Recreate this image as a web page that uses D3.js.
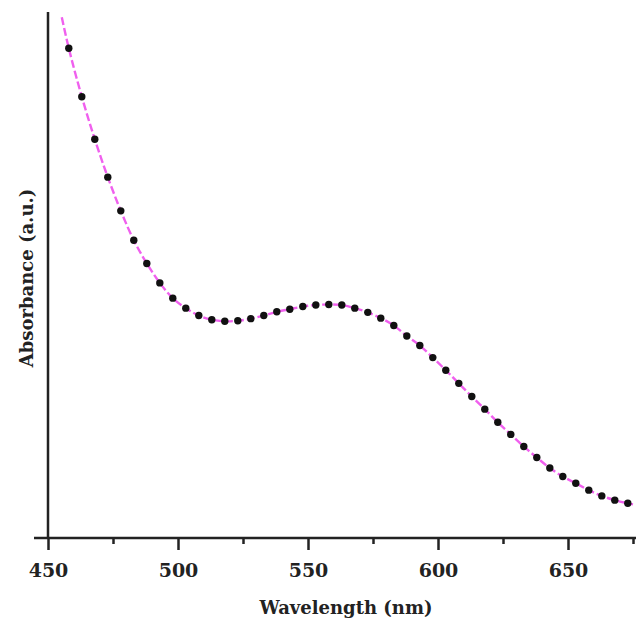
<!DOCTYPE html>
<html>
<head>
<meta charset="utf-8">
<script src="https://cdn.jsdelivr.net/npm/d3@7"></script>
<style>
  html, body { margin: 0; padding: 0; background: #fff; }
  svg text { font-family: "DejaVu Serif", serif; font-weight: bold; fill: #222; }
</style>
</head>
<body>
<svg id="chart" width="640" height="623"></svg>
<script>
// measured points, every 5 nm from 458 to 673
const wavelengths = d3.range(458, 674, 5);
const absorbance = [
  0.931, 0.839, 0.758, 0.686, 0.622, 0.566, 0.522, 0.485, 0.456, 0.437,
  0.423, 0.415, 0.412, 0.413, 0.417, 0.423, 0.430, 0.435, 0.440, 0.443,
  0.444, 0.443, 0.437, 0.429, 0.418, 0.404, 0.384, 0.366, 0.343, 0.319,
  0.294, 0.269, 0.245, 0.220, 0.197, 0.174, 0.153, 0.133, 0.117, 0.104,
  0.091, 0.080, 0.072, 0.066
];
// ends of the dashed fit line beyond the first/last dot
const lineStart = [455.3, 0.99];
const lineEnd = [675, 0.064];

const majorTicks = [450, 500, 550, 600, 650];
const minorTicks = [475, 525, 575, 625, 675];

const svg = d3.select("#chart");

const x = d3.scaleLinear().domain([450, 675]).range([48, 633]);
const y = d3.scaleLinear().domain([0, 1]).range([538, 12]);

const points = wavelengths.map((w, i) => [w, absorbance[i]]);
const linePoints = [lineStart, ...points, lineEnd];

// fit line
const line = d3.line()
  .x((d) => x(d[0]))
  .y((d) => y(d[1]))
  .curve(d3.curveCatmullRom);

svg.append("path")
  .datum(linePoints)
  .attr("d", line)
  .attr("fill", "none")
  .attr("stroke", "#f060ee")
  .attr("stroke-width", 2.4)
  .attr("stroke-dasharray", "8,3");

// dots
svg.append("g")
  .selectAll("circle")
  .data(points)
  .join("circle")
  .attr("cx", (d) => x(d[0]))
  .attr("cy", (d) => y(d[1]))
  .attr("r", 3.7)
  .attr("fill", "#111");

// axes
const xAxisG = svg.append("g").attr("transform", "translate(0,538)");
xAxisG.call(d3.axisBottom(x).tickValues(majorTicks).tickSize(12).tickFormat(d3.format("d")))
  .call((g) => g.select(".domain").remove());
xAxisG.selectAll(".tick line").attr("stroke", "#222").attr("stroke-width", 2.5);
xAxisG.selectAll(".tick text")
  .attr("y", 26)
  .attr("dy", "0.71em")
  .style("font-size", "19px")
  .style("font-family", "'DejaVu Serif', serif")
  .style("font-weight", "bold")
  .attr("fill", "#222");

const minorG = svg.append("g").attr("transform", "translate(0,538)");
minorG.call(d3.axisBottom(x).tickValues(minorTicks).tickSize(6).tickFormat(""))
  .call((g) => g.select(".domain").remove());
minorG.selectAll(".tick line").attr("stroke", "#222").attr("stroke-width", 2.5);

svg.append("line")
  .attr("x1", 34).attr("x2", 636)
  .attr("y1", 538).attr("y2", 538)
  .attr("stroke", "#222").attr("stroke-width", 2.5);

svg.append("line")
  .attr("x1", 48).attr("x2", 48)
  .attr("y1", 12).attr("y2", 538)
  .attr("stroke", "#222").attr("stroke-width", 2.5);

// labels
svg.append("text")
  .attr("x", 346)
  .attr("y", 614)
  .attr("text-anchor", "middle")
  .style("font-size", "18px")
  .text("Wavelength (nm)");

svg.append("text")
  .attr("transform", "translate(33,278) rotate(-90)")
  .attr("text-anchor", "middle")
  .style("font-size", "18px")
  .text("Absorbance (a.u.)");
</script>
</body>
</html>
